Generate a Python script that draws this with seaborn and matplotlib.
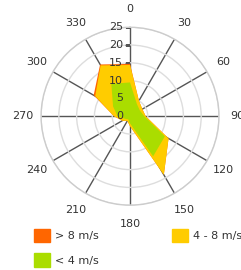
import numpy as np
import matplotlib
matplotlib.use("Agg")
import matplotlib.pyplot as plt
import matplotlib.transforms as mtransforms
from matplotlib.patches import Patch
import seaborn as sns

# wind directions (degrees) and frequency per speed band
directions = [0, 30, 60, 90, 120, 150, 180, 210, 240, 270, 300, 330]
low = [9.5, 3.9, 3.2, 4.0, 11.3, 13.0, 2.0, 1.0, 1.5, 3.5, 5.5, 10.5]     # < 4 m/s
mid = [4.9, 1.1, 0.8, 0.4, 1.2, 6.0, 0.8, 0.5, 1.0, 1.0, 5.8, 6.0]        # 4 - 8 m/s
high = [0.3, 0.0, 0.0, 0.0, 0.0, 0.0, 0.0, 0.0, 0.0, 0.0, 0.5, 0.3]       # > 8 m/s
band_labels = ["< 4 m/s", "4 - 8 m/s", "> 8 m/s"]
band_colors = ["#aadd00", "#ffcc00", "#ff6600"]
r_ticks = [0, 5, 10, 15, 20, 25]

sns.set_style("white")
plt.rcParams["font.family"] = ["DejaVu Sans"]

fig = plt.figure(figsize=(2.41, 2.70), dpi=100)
ax = fig.add_axes([0.170, 0.240, 0.739, 0.659], projection="polar")
ax.set_theta_zero_location("N")
ax.set_theta_direction(-1)

theta = np.deg2rad(directions + [directions[0]])
stacked = np.cumsum([low, mid, high], axis=0)

# draw from the outermost band inwards
for band in range(2, -1, -1):
    vals = list(stacked[band]) + [stacked[band][0]]
    ax.fill(theta, vals, color=band_colors[band], lw=0, zorder=1)

ax.set_ylim(0, 25)
ax.set_yticks(r_ticks)
ax.set_yticklabels([])
ax.set_xticks(np.deg2rad(directions))
ax.set_xticklabels([str(d) for d in directions], fontsize=8, color="#333333")
ax.tick_params(axis="x", pad=3)
ax.set_axisbelow(True)
ax.xaxis.grid(True, color="#555555", lw=1)
ax.yaxis.grid(True, color="#dddddd", lw=1)
ax.spines["polar"].set_color("#cccccc")
ax.spines["polar"].set_linewidth(1)

# radial axis labels and ticks along the 0 degree line
shift = mtransforms.ScaledTranslation(-7 / 100, 0, fig.dpi_scale_trans)
for r in r_ticks:
    ax.text(0, r, str(r), transform=ax.transData + shift,
            ha="right", va="center", fontsize=8, color="#333333", zorder=3)
    ax.plot(0, r, marker=[(-1, 0), (0, 0)], ms=7, mew=1, color="#555555", zorder=0.6)

handles = [Patch(color=band_colors[2], label=band_labels[2]),
           Patch(color=band_colors[0], label=band_labels[0]),
           Patch(color=band_colors[1], label=band_labels[1])]
fig.legend(handles=handles, ncol=2, loc="upper left",
           bbox_to_anchor=(34 / 241, 1 - 229 / 270), frameon=False,
           fontsize=8, labelcolor="#333333", handlelength=1.45, handleheight=1.45,
           handletextpad=0.45, columnspacing=6.6, labelspacing=1.0,
           borderpad=0, borderaxespad=0)

fig.savefig("out.png", dpi=100)
